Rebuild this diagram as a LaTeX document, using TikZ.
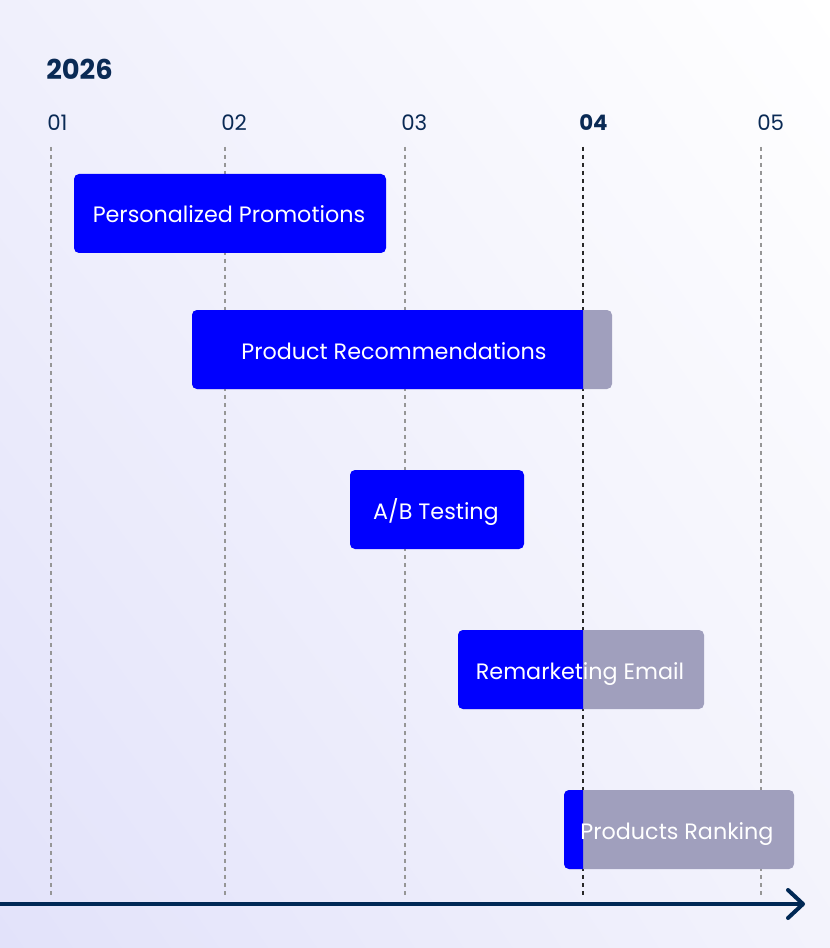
\documentclass[tikz,border=0pt]{standalone}
\usepackage{fontspec}
\setmainfont{Poppins}
\usetikzlibrary{shadings}
\definecolor{navy}{RGB}{10,42,85}
\definecolor{axisnavy}{RGB}{0,40,85}
\definecolor{barblue}{RGB}{0,0,255}
\definecolor{bargray}{RGB}{160,159,189}
\definecolor{gridgray}{RGB}{150,150,150}
\definecolor{griddark}{RGB}{40,40,40}
\definecolor{bgll}{RGB}{226,226,250}
\definecolor{bgul}{RGB}{240,240,252}
\definecolor{bglr}{RGB}{243,243,252}
\newcommand{\ganttbar}[7]{%
  % #1 name, #2 x1, #3 x2, #4 y1, #5 y2, #6 text x, #7 text
  \ifdim #3pt>583pt
    \fill[bargray, rounded corners=3.75pt] (#2,#4) rectangle (#3,#5);
    \begin{scope}
      \clip (#2-2,#4-2) rectangle (583,#5+2);
      \fill[barblue, rounded corners=3.75pt] (#2,#4) rectangle (#3,#5);
    \end{scope}
  \else
    \fill[barblue, rounded corners=3.75pt] (#2,#4) rectangle (#3,#5);
  \fi
  \node[bartext] (#1) at (#6,{(#4+#5)/2+9.5}) {#7};
}
\begin{document}
\begin{tikzpicture}[x=0.75pt,y=-0.75pt,
  bartext/.style={text=white, font=\fontsize{16.7}{20}\selectfont, inner sep=0pt, anchor=base},
  month/.style={text=navy, font=\fontsize{16}{19}\selectfont, anchor=base west, inner sep=0pt},
  grid/.style={gridgray, line width=1.5pt, dash pattern=on 3pt off 3pt},
  griddk/.style={griddark, line width=1.5pt, dash pattern=on 3pt off 3pt},
  axis/.style={axisnavy, line width=3pt}]
\useasboundingbox (0,0) rectangle (830,948);
\shade[upper left=bgul, upper right=white, lower left=bgll, lower right=bglr] (0,0) rectangle (830,948);

% year
\node[text=navy, font=\fontsize{20.5}{24}\selectfont\bfseries, anchor=base west, inner sep=0pt] (year) at (46,80) {2026};

% months and grid lines
\foreach \x/\m/\n in {51/01/m1, 225/02/m2, 405/03/m3, 761/05/m5} {
  \node[month] (\n) at (\x-4,131) {\m};
  \coordinate (\n top) at (\x,147);
  \coordinate (\n bot) at (\x,898);
  \draw[grid] (\n top) -- (\n bot);
}
\node[month, font=\fontsize{16}{19}\selectfont\bfseries] (m4) at (579,131) {04};
\coordinate (m4top) at (583,147);
\coordinate (m4bot) at (583,898);
\draw[griddk] (m4top) -- (m4bot);

% bars
\ganttbar{b1}{74}{386}{174}{253}{229}{Personalized Promotions}
\ganttbar{b2}{192}{612}{310}{389}{394}{Product Recommendations}
\ganttbar{b3}{350}{524}{470}{549}{436}{A/B Testing}
\ganttbar{b4}{458}{704}{630}{709}{580}{Remarketing Email}
\ganttbar{b5}{564}{794}{790}{869}{677}{Products Ranking}

% axis
\coordinate (axL) at (0,904);
\coordinate (axR) at (803,904);
\draw[axis] (axL) -- (axR);
\draw[axis, line cap=round, line join=round] ([shift={(-15,-14)}]axR) -- (axR) -- ([shift={(-15,14)}]axR);
\end{tikzpicture}
\end{document}
